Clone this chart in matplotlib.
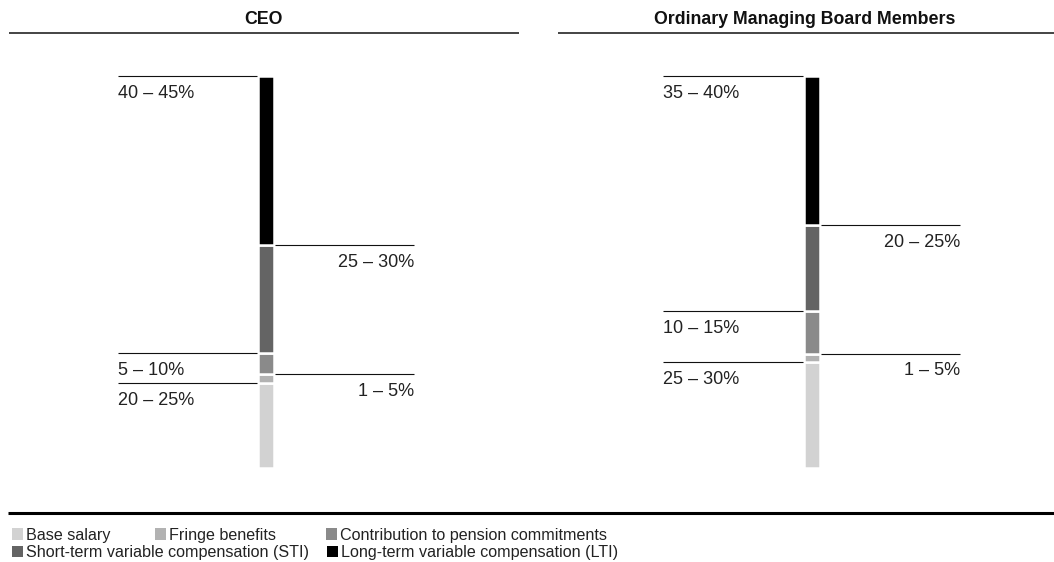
import matplotlib
matplotlib.use("Agg")
import numpy as np
from matplotlib import pyplot as plt
from matplotlib.patches import Rectangle

plt.rcParams['font.family'] = ['Liberation Sans', 'DejaVu Sans']

# components, bottom to top
components = ["Base salary", "Fringe benefits", "Contribution to pension commitments",
              "Short-term variable compensation (STI)", "Long-term variable compensation (LTI)"]
colors = ["#d2d2d2", "#b2b2b2", "#8a8a8a", "#646464", "#000000"]

# approximate shares (%)
ceo_share = [21.6, 2.3, 5.5, 27.5, 43.1]
ceo_labels = ["20 – 25%", "1 – 5%", "5 – 10%", "25 – 30%", "40 – 45%"]
board_share = [27.1, 2.1, 10.9, 21.8, 38.1]
board_labels = ["25 – 30%", "1 – 5%", "10 – 15%", "20 – 25%", "35 – 40%"]
label_side = ["left", "right", "left", "right", "left"]
panel_titles = ["CEO", "Ordinary Managing Board Members"]

W, H = 1054, 562
fig = plt.figure(figsize=(W / 100, H / 100), dpi=100)

# overlay axes in pixel units for rules, titles and legend
deco = fig.add_axes([0, 0, 1, 1])
deco.set_xlim(0, W)
deco.set_ylim(H, 0)
deco.axis("off")

text_col = "#222222"

# panel layout in pixels: axes span, bar centre, left and right leader spans
panels = [
    dict(span=(8, 519), center=266, left=(118, 257), right=(275, 414), title_x=263.5),
    dict(span=(557, 1054), center=812, left=(663, 803), right=(821, 960), title_x=805),
]
bar_top, bar_bottom = 76, 468

for p, shares, labels, title in zip(panels, [ceo_share, board_share],
                                    [ceo_labels, board_labels], panel_titles):
    x0, x1 = p["span"]
    ax = fig.add_axes([x0 / W, (H - bar_bottom) / H, (x1 - x0) / W, (bar_bottom - bar_top) / H])
    ax.set_xlim(x0, x1)
    ax.set_ylim(0, sum(shares))
    ax.axis("off")

    bottoms = np.concatenate([[0], np.cumsum(shares)[:-1]])
    ax.bar([p["center"]] * len(shares), shares, bottom=bottoms, width=15.9,
           color=colors, edgecolor="white", linewidth=1.8)

    for val, bot, lab, side in zip(shares, bottoms, labels, label_side):
        top = bot + val
        xa, xb = p[side]
        ax.plot([xa, xb], [top, top], color="#111111", lw=0.8, clip_on=False,
                solid_capstyle="butt")
        tx = xa if side == "left" else xb
        ax.annotate(lab, xy=(tx, top), xytext=(0, -6.3), textcoords="offset points",
                    ha=side, va="top", fontsize=13, color=text_col, annotation_clip=False)

    deco.text(p["title_x"], 24, title, ha="center", va="baseline",
              fontsize=12.8, fontweight="bold", color="#111111")
    deco.plot([x0 + 1, x1], [32.5, 32.5], color="#111111", lw=1.1, solid_capstyle="butt")

# bottom rule
deco.plot([8, W], [513.3, 513.3], color="#000000", lw=2.2, solid_capstyle="butt")

# legend (manual, two rows)
legend_pos = [(11.5, 539.7), (155, 539.7), (325.5, 539.7), (11.5, 557.3), (326.7, 557.3)]
for name, col, (lx, ly) in zip(components, colors, legend_pos):
    deco.add_patch(Rectangle((lx, ly - 11.5), 11.3, 11.5, color=col, lw=0))
    deco.text(lx + 14.3, ly, name, ha="left", va="baseline", fontsize=11.6, color=text_col)

fig.savefig("out.png", dpi=100)
